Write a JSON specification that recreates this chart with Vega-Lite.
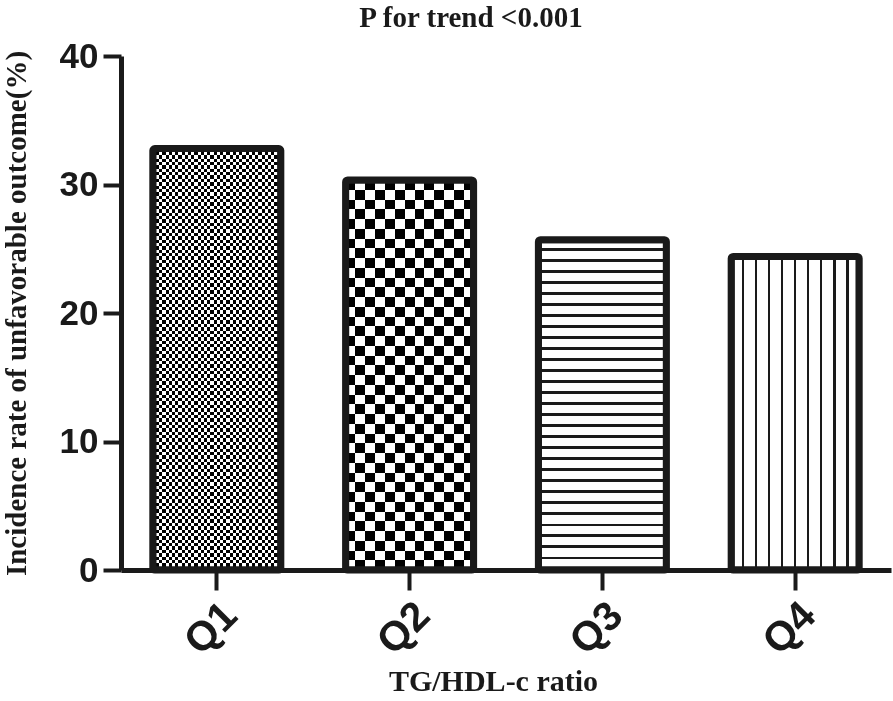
{
  "$schema": "https://vega.github.io/schema/vega-lite/v6.json",
  "width": 770,
  "height": 514,
  "autosize": "none",
  "padding": {"left": 121, "top": 56, "right": 2, "bottom": 131},
  "background": "white",
  "config": {"view": {"stroke": null}},
  "title": {"text": "P for trend <0.001", "font": "Liberation Serif", "fontSize": 29, "fontWeight": "bold", "color": "#1a1a1a", "anchor": "middle", "frame": "group", "dx": -35, "offset": 6},
  "data": {"values": [
    {"q": "Q1", "rate": 32.8},
    {"q": "Q2", "rate": 30.35},
    {"q": "Q3", "rate": 25.7},
    {"q": "Q4", "rate": 24.4}
  ]},
  "encoding": {
    "x": {"field": "q", "type": "nominal", "title": "TG/HDL-c ratio",
      "scale": {"domain": ["Q1", "Q2", "Q3", "Q4"], "paddingInner": 0.336, "paddingOuter": 0.165},
      "axis": {"domainWidth": 5, "domainColor": "#1a1a1a", "tickColor": "#1a1a1a", "tickWidth": 4, "tickSize": 20, "labelAngle": -45, "labelFont": "Liberation Sans", "labelFontWeight": "bold", "labelFontSize": 41, "labelColor": "#1a1a1a", "labelPadding": 5, "titleFont": "Liberation Serif", "titleFontWeight": "bold", "titleFontSize": 30, "titleColor": "#1a1a1a", "titlePadding": 5, "titleX": 372, "grid": false}},
    "y": {"field": "rate", "type": "quantitative", "title": "Incidence rate of unfavorable outcome(%)",
      "scale": {"domain": [0, 40], "nice": false},
      "axis": {"values": [0, 10, 20, 30, 40], "domainWidth": 5, "domainColor": "#1a1a1a", "tickColor": "#1a1a1a", "tickWidth": 4, "tickSize": 18, "labelFont": "Liberation Sans", "labelFontWeight": "bold", "labelFontSize": 35, "labelColor": "#1a1a1a", "labelPadding": 5, "titleFont": "Liberation Serif", "titleFontWeight": "bold", "titleFontSize": 29, "titleColor": "#1a1a1a", "titlePadding": 28, "grid": false}}
  },
  "layer": [
    {
      "transform": [{"filter": "datum.q === 'Q1'"}],
      "mark": {"type": "bar", "stroke": null, "fill": {"gradient": "linear", "x1": 0, "y1": 0, "x2": 1, "y2": 0, "stops": [
        {"offset": 0, "color": "#fff"},
        {"offset": 0.025, "color": "#fff"}, {"offset": 0.025, "color": "#000"},
        {"offset": 0.05, "color": "#000"}, {"offset": 0.05, "color": "#fff"},
        {"offset": 0.075, "color": "#fff"}, {"offset": 0.075, "color": "#000"},
        {"offset": 0.1, "color": "#000"}, {"offset": 0.1, "color": "#fff"},
        {"offset": 0.125, "color": "#fff"}, {"offset": 0.125, "color": "#000"},
        {"offset": 0.15, "color": "#000"}, {"offset": 0.15, "color": "#fff"},
        {"offset": 0.175, "color": "#fff"}, {"offset": 0.175, "color": "#000"},
        {"offset": 0.2, "color": "#000"}, {"offset": 0.2, "color": "#fff"},
        {"offset": 0.225, "color": "#fff"}, {"offset": 0.225, "color": "#000"},
        {"offset": 0.25, "color": "#000"}, {"offset": 0.25, "color": "#fff"},
        {"offset": 0.275, "color": "#fff"}, {"offset": 0.275, "color": "#000"},
        {"offset": 0.3, "color": "#000"}, {"offset": 0.3, "color": "#fff"},
        {"offset": 0.325, "color": "#fff"}, {"offset": 0.325, "color": "#000"},
        {"offset": 0.35, "color": "#000"}, {"offset": 0.35, "color": "#fff"},
        {"offset": 0.375, "color": "#fff"}, {"offset": 0.375, "color": "#000"},
        {"offset": 0.4, "color": "#000"}, {"offset": 0.4, "color": "#fff"},
        {"offset": 0.425, "color": "#fff"}, {"offset": 0.425, "color": "#000"},
        {"offset": 0.45, "color": "#000"}, {"offset": 0.45, "color": "#fff"},
        {"offset": 0.475, "color": "#fff"}, {"offset": 0.475, "color": "#000"},
        {"offset": 0.5, "color": "#000"}, {"offset": 0.5, "color": "#fff"},
        {"offset": 0.525, "color": "#fff"}, {"offset": 0.525, "color": "#000"},
        {"offset": 0.55, "color": "#000"}, {"offset": 0.55, "color": "#fff"},
        {"offset": 0.575, "color": "#fff"}, {"offset": 0.575, "color": "#000"},
        {"offset": 0.6, "color": "#000"}, {"offset": 0.6, "color": "#fff"},
        {"offset": 0.625, "color": "#fff"}, {"offset": 0.625, "color": "#000"},
        {"offset": 0.65, "color": "#000"}, {"offset": 0.65, "color": "#fff"},
        {"offset": 0.675, "color": "#fff"}, {"offset": 0.675, "color": "#000"},
        {"offset": 0.7, "color": "#000"}, {"offset": 0.7, "color": "#fff"},
        {"offset": 0.725, "color": "#fff"}, {"offset": 0.725, "color": "#000"},
        {"offset": 0.75, "color": "#000"}, {"offset": 0.75, "color": "#fff"},
        {"offset": 0.775, "color": "#fff"}, {"offset": 0.775, "color": "#000"},
        {"offset": 0.8, "color": "#000"}, {"offset": 0.8, "color": "#fff"},
        {"offset": 0.825, "color": "#fff"}, {"offset": 0.825, "color": "#000"},
        {"offset": 0.85, "color": "#000"}, {"offset": 0.85, "color": "#fff"},
        {"offset": 0.875, "color": "#fff"}, {"offset": 0.875, "color": "#000"},
        {"offset": 0.9, "color": "#000"}, {"offset": 0.9, "color": "#fff"},
        {"offset": 0.925, "color": "#fff"}, {"offset": 0.925, "color": "#000"},
        {"offset": 0.95, "color": "#000"}, {"offset": 0.95, "color": "#fff"},
        {"offset": 0.975, "color": "#fff"}, {"offset": 0.975, "color": "#000"},
        {"offset": 1, "color": "#000"}
      ]}}
    },
    {
      "transform": [{"filter": "datum.q === 'Q1'"}],
      "mark": {"type": "bar", "stroke": null, "blend": "difference", "fill": {"gradient": "linear", "x1": 0, "y1": 0, "x2": 0, "y2": 1, "stops": [
        {"offset": 0, "color": "#fff"},
        {"offset": 0.008, "color": "#fff"}, {"offset": 0.008, "color": "#000"},
        {"offset": 0.016, "color": "#000"}, {"offset": 0.016, "color": "#fff"},
        {"offset": 0.024, "color": "#fff"}, {"offset": 0.024, "color": "#000"},
        {"offset": 0.032, "color": "#000"}, {"offset": 0.032, "color": "#fff"},
        {"offset": 0.04, "color": "#fff"}, {"offset": 0.04, "color": "#000"},
        {"offset": 0.048, "color": "#000"}, {"offset": 0.048, "color": "#fff"},
        {"offset": 0.056, "color": "#fff"}, {"offset": 0.056, "color": "#000"},
        {"offset": 0.064, "color": "#000"}, {"offset": 0.064, "color": "#fff"},
        {"offset": 0.072, "color": "#fff"}, {"offset": 0.072, "color": "#000"},
        {"offset": 0.08, "color": "#000"}, {"offset": 0.08, "color": "#fff"},
        {"offset": 0.088, "color": "#fff"}, {"offset": 0.088, "color": "#000"},
        {"offset": 0.096, "color": "#000"}, {"offset": 0.096, "color": "#fff"},
        {"offset": 0.104, "color": "#fff"}, {"offset": 0.104, "color": "#000"},
        {"offset": 0.112, "color": "#000"}, {"offset": 0.112, "color": "#fff"},
        {"offset": 0.12, "color": "#fff"}, {"offset": 0.12, "color": "#000"},
        {"offset": 0.128, "color": "#000"}, {"offset": 0.128, "color": "#fff"},
        {"offset": 0.136, "color": "#fff"}, {"offset": 0.136, "color": "#000"},
        {"offset": 0.144, "color": "#000"}, {"offset": 0.144, "color": "#fff"},
        {"offset": 0.152, "color": "#fff"}, {"offset": 0.152, "color": "#000"},
        {"offset": 0.16, "color": "#000"}, {"offset": 0.16, "color": "#fff"},
        {"offset": 0.168, "color": "#fff"}, {"offset": 0.168, "color": "#000"},
        {"offset": 0.176, "color": "#000"}, {"offset": 0.176, "color": "#fff"},
        {"offset": 0.184, "color": "#fff"}, {"offset": 0.184, "color": "#000"},
        {"offset": 0.192, "color": "#000"}, {"offset": 0.192, "color": "#fff"},
        {"offset": 0.2, "color": "#fff"}, {"offset": 0.2, "color": "#000"},
        {"offset": 0.208, "color": "#000"}, {"offset": 0.208, "color": "#fff"},
        {"offset": 0.216, "color": "#fff"}, {"offset": 0.216, "color": "#000"},
        {"offset": 0.224, "color": "#000"}, {"offset": 0.224, "color": "#fff"},
        {"offset": 0.232, "color": "#fff"}, {"offset": 0.232, "color": "#000"},
        {"offset": 0.24, "color": "#000"}, {"offset": 0.24, "color": "#fff"},
        {"offset": 0.248, "color": "#fff"}, {"offset": 0.248, "color": "#000"},
        {"offset": 0.256, "color": "#000"}, {"offset": 0.256, "color": "#fff"},
        {"offset": 0.264, "color": "#fff"}, {"offset": 0.264, "color": "#000"},
        {"offset": 0.272, "color": "#000"}, {"offset": 0.272, "color": "#fff"},
        {"offset": 0.28, "color": "#fff"}, {"offset": 0.28, "color": "#000"},
        {"offset": 0.288, "color": "#000"}, {"offset": 0.288, "color": "#fff"},
        {"offset": 0.296, "color": "#fff"}, {"offset": 0.296, "color": "#000"},
        {"offset": 0.304, "color": "#000"}, {"offset": 0.304, "color": "#fff"},
        {"offset": 0.312, "color": "#fff"}, {"offset": 0.312, "color": "#000"},
        {"offset": 0.32, "color": "#000"}, {"offset": 0.32, "color": "#fff"},
        {"offset": 0.328, "color": "#fff"}, {"offset": 0.328, "color": "#000"},
        {"offset": 0.336, "color": "#000"}, {"offset": 0.336, "color": "#fff"},
        {"offset": 0.344, "color": "#fff"}, {"offset": 0.344, "color": "#000"},
        {"offset": 0.352, "color": "#000"}, {"offset": 0.352, "color": "#fff"},
        {"offset": 0.36, "color": "#fff"}, {"offset": 0.36, "color": "#000"},
        {"offset": 0.368, "color": "#000"}, {"offset": 0.368, "color": "#fff"},
        {"offset": 0.376, "color": "#fff"}, {"offset": 0.376, "color": "#000"},
        {"offset": 0.384, "color": "#000"}, {"offset": 0.384, "color": "#fff"},
        {"offset": 0.392, "color": "#fff"}, {"offset": 0.392, "color": "#000"},
        {"offset": 0.4, "color": "#000"}, {"offset": 0.4, "color": "#fff"},
        {"offset": 0.408, "color": "#fff"}, {"offset": 0.408, "color": "#000"},
        {"offset": 0.416, "color": "#000"}, {"offset": 0.416, "color": "#fff"},
        {"offset": 0.424, "color": "#fff"}, {"offset": 0.424, "color": "#000"},
        {"offset": 0.432, "color": "#000"}, {"offset": 0.432, "color": "#fff"},
        {"offset": 0.44, "color": "#fff"}, {"offset": 0.44, "color": "#000"},
        {"offset": 0.448, "color": "#000"}, {"offset": 0.448, "color": "#fff"},
        {"offset": 0.456, "color": "#fff"}, {"offset": 0.456, "color": "#000"},
        {"offset": 0.464, "color": "#000"}, {"offset": 0.464, "color": "#fff"},
        {"offset": 0.472, "color": "#fff"}, {"offset": 0.472, "color": "#000"},
        {"offset": 0.48, "color": "#000"}, {"offset": 0.48, "color": "#fff"},
        {"offset": 0.488, "color": "#fff"}, {"offset": 0.488, "color": "#000"},
        {"offset": 0.496, "color": "#000"}, {"offset": 0.496, "color": "#fff"},
        {"offset": 0.504, "color": "#fff"}, {"offset": 0.504, "color": "#000"},
        {"offset": 0.512, "color": "#000"}, {"offset": 0.512, "color": "#fff"},
        {"offset": 0.52, "color": "#fff"}, {"offset": 0.52, "color": "#000"},
        {"offset": 0.528, "color": "#000"}, {"offset": 0.528, "color": "#fff"},
        {"offset": 0.536, "color": "#fff"}, {"offset": 0.536, "color": "#000"},
        {"offset": 0.544, "color": "#000"}, {"offset": 0.544, "color": "#fff"},
        {"offset": 0.552, "color": "#fff"}, {"offset": 0.552, "color": "#000"},
        {"offset": 0.56, "color": "#000"}, {"offset": 0.56, "color": "#fff"},
        {"offset": 0.568, "color": "#fff"}, {"offset": 0.568, "color": "#000"},
        {"offset": 0.576, "color": "#000"}, {"offset": 0.576, "color": "#fff"},
        {"offset": 0.584, "color": "#fff"}, {"offset": 0.584, "color": "#000"},
        {"offset": 0.592, "color": "#000"}, {"offset": 0.592, "color": "#fff"},
        {"offset": 0.6, "color": "#fff"}, {"offset": 0.6, "color": "#000"},
        {"offset": 0.608, "color": "#000"}, {"offset": 0.608, "color": "#fff"},
        {"offset": 0.616, "color": "#fff"}, {"offset": 0.616, "color": "#000"},
        {"offset": 0.624, "color": "#000"}, {"offset": 0.624, "color": "#fff"},
        {"offset": 0.632, "color": "#fff"}, {"offset": 0.632, "color": "#000"},
        {"offset": 0.64, "color": "#000"}, {"offset": 0.64, "color": "#fff"},
        {"offset": 0.648, "color": "#fff"}, {"offset": 0.648, "color": "#000"},
        {"offset": 0.656, "color": "#000"}, {"offset": 0.656, "color": "#fff"},
        {"offset": 0.664, "color": "#fff"}, {"offset": 0.664, "color": "#000"},
        {"offset": 0.672, "color": "#000"}, {"offset": 0.672, "color": "#fff"},
        {"offset": 0.68, "color": "#fff"}, {"offset": 0.68, "color": "#000"},
        {"offset": 0.688, "color": "#000"}, {"offset": 0.688, "color": "#fff"},
        {"offset": 0.696, "color": "#fff"}, {"offset": 0.696, "color": "#000"},
        {"offset": 0.704, "color": "#000"}, {"offset": 0.704, "color": "#fff"},
        {"offset": 0.712, "color": "#fff"}, {"offset": 0.712, "color": "#000"},
        {"offset": 0.72, "color": "#000"}, {"offset": 0.72, "color": "#fff"},
        {"offset": 0.728, "color": "#fff"}, {"offset": 0.728, "color": "#000"},
        {"offset": 0.736, "color": "#000"}, {"offset": 0.736, "color": "#fff"},
        {"offset": 0.744, "color": "#fff"}, {"offset": 0.744, "color": "#000"},
        {"offset": 0.752, "color": "#000"}, {"offset": 0.752, "color": "#fff"},
        {"offset": 0.76, "color": "#fff"}, {"offset": 0.76, "color": "#000"},
        {"offset": 0.768, "color": "#000"}, {"offset": 0.768, "color": "#fff"},
        {"offset": 0.776, "color": "#fff"}, {"offset": 0.776, "color": "#000"},
        {"offset": 0.784, "color": "#000"}, {"offset": 0.784, "color": "#fff"},
        {"offset": 0.792, "color": "#fff"}, {"offset": 0.792, "color": "#000"},
        {"offset": 0.8, "color": "#000"}, {"offset": 0.8, "color": "#fff"},
        {"offset": 0.808, "color": "#fff"}, {"offset": 0.808, "color": "#000"},
        {"offset": 0.816, "color": "#000"}, {"offset": 0.816, "color": "#fff"},
        {"offset": 0.824, "color": "#fff"}, {"offset": 0.824, "color": "#000"},
        {"offset": 0.832, "color": "#000"}, {"offset": 0.832, "color": "#fff"},
        {"offset": 0.84, "color": "#fff"}, {"offset": 0.84, "color": "#000"},
        {"offset": 0.848, "color": "#000"}, {"offset": 0.848, "color": "#fff"},
        {"offset": 0.856, "color": "#fff"}, {"offset": 0.856, "color": "#000"},
        {"offset": 0.864, "color": "#000"}, {"offset": 0.864, "color": "#fff"},
        {"offset": 0.872, "color": "#fff"}, {"offset": 0.872, "color": "#000"},
        {"offset": 0.88, "color": "#000"}, {"offset": 0.88, "color": "#fff"},
        {"offset": 0.888, "color": "#fff"}, {"offset": 0.888, "color": "#000"},
        {"offset": 0.896, "color": "#000"}, {"offset": 0.896, "color": "#fff"},
        {"offset": 0.904, "color": "#fff"}, {"offset": 0.904, "color": "#000"},
        {"offset": 0.912, "color": "#000"}, {"offset": 0.912, "color": "#fff"},
        {"offset": 0.92, "color": "#fff"}, {"offset": 0.92, "color": "#000"},
        {"offset": 0.928, "color": "#000"}, {"offset": 0.928, "color": "#fff"},
        {"offset": 0.936, "color": "#fff"}, {"offset": 0.936, "color": "#000"},
        {"offset": 0.944, "color": "#000"}, {"offset": 0.944, "color": "#fff"},
        {"offset": 0.952, "color": "#fff"}, {"offset": 0.952, "color": "#000"},
        {"offset": 0.96, "color": "#000"}, {"offset": 0.96, "color": "#fff"},
        {"offset": 0.968, "color": "#fff"}, {"offset": 0.968, "color": "#000"},
        {"offset": 0.976, "color": "#000"}, {"offset": 0.976, "color": "#fff"},
        {"offset": 0.984, "color": "#fff"}, {"offset": 0.984, "color": "#000"},
        {"offset": 0.992, "color": "#000"}, {"offset": 0.992, "color": "#fff"},
        {"offset": 1, "color": "#fff"}
      ]}}
    },
    {
      "transform": [{"filter": "datum.q === 'Q2'"}],
      "mark": {"type": "bar", "stroke": null, "fill": {"gradient": "linear", "x1": 0, "y1": 0, "x2": 1, "y2": 0, "stops": [
        {"offset": 0, "color": "#fff"},
        {"offset": 0.0769, "color": "#fff"}, {"offset": 0.0769, "color": "#000"},
        {"offset": 0.1538, "color": "#000"}, {"offset": 0.1538, "color": "#fff"},
        {"offset": 0.2308, "color": "#fff"}, {"offset": 0.2308, "color": "#000"},
        {"offset": 0.3077, "color": "#000"}, {"offset": 0.3077, "color": "#fff"},
        {"offset": 0.3846, "color": "#fff"}, {"offset": 0.3846, "color": "#000"},
        {"offset": 0.4615, "color": "#000"}, {"offset": 0.4615, "color": "#fff"},
        {"offset": 0.5385, "color": "#fff"}, {"offset": 0.5385, "color": "#000"},
        {"offset": 0.6154, "color": "#000"}, {"offset": 0.6154, "color": "#fff"},
        {"offset": 0.6923, "color": "#fff"}, {"offset": 0.6923, "color": "#000"},
        {"offset": 0.7692, "color": "#000"}, {"offset": 0.7692, "color": "#fff"},
        {"offset": 0.8462, "color": "#fff"}, {"offset": 0.8462, "color": "#000"},
        {"offset": 0.9231, "color": "#000"}, {"offset": 0.9231, "color": "#fff"},
        {"offset": 1, "color": "#fff"}
      ]}}
    },
    {
      "transform": [{"filter": "datum.q === 'Q2'"}],
      "mark": {"type": "bar", "stroke": null, "blend": "difference", "fill": {"gradient": "linear", "x1": 0, "y1": 0, "x2": 0, "y2": 1, "stops": [
        {"offset": 0, "color": "#fff"},
        {"offset": 0.025, "color": "#fff"}, {"offset": 0.025, "color": "#000"},
        {"offset": 0.05, "color": "#000"}, {"offset": 0.05, "color": "#fff"},
        {"offset": 0.075, "color": "#fff"}, {"offset": 0.075, "color": "#000"},
        {"offset": 0.1, "color": "#000"}, {"offset": 0.1, "color": "#fff"},
        {"offset": 0.125, "color": "#fff"}, {"offset": 0.125, "color": "#000"},
        {"offset": 0.15, "color": "#000"}, {"offset": 0.15, "color": "#fff"},
        {"offset": 0.175, "color": "#fff"}, {"offset": 0.175, "color": "#000"},
        {"offset": 0.2, "color": "#000"}, {"offset": 0.2, "color": "#fff"},
        {"offset": 0.225, "color": "#fff"}, {"offset": 0.225, "color": "#000"},
        {"offset": 0.25, "color": "#000"}, {"offset": 0.25, "color": "#fff"},
        {"offset": 0.275, "color": "#fff"}, {"offset": 0.275, "color": "#000"},
        {"offset": 0.3, "color": "#000"}, {"offset": 0.3, "color": "#fff"},
        {"offset": 0.325, "color": "#fff"}, {"offset": 0.325, "color": "#000"},
        {"offset": 0.35, "color": "#000"}, {"offset": 0.35, "color": "#fff"},
        {"offset": 0.375, "color": "#fff"}, {"offset": 0.375, "color": "#000"},
        {"offset": 0.4, "color": "#000"}, {"offset": 0.4, "color": "#fff"},
        {"offset": 0.425, "color": "#fff"}, {"offset": 0.425, "color": "#000"},
        {"offset": 0.45, "color": "#000"}, {"offset": 0.45, "color": "#fff"},
        {"offset": 0.475, "color": "#fff"}, {"offset": 0.475, "color": "#000"},
        {"offset": 0.5, "color": "#000"}, {"offset": 0.5, "color": "#fff"},
        {"offset": 0.525, "color": "#fff"}, {"offset": 0.525, "color": "#000"},
        {"offset": 0.55, "color": "#000"}, {"offset": 0.55, "color": "#fff"},
        {"offset": 0.575, "color": "#fff"}, {"offset": 0.575, "color": "#000"},
        {"offset": 0.6, "color": "#000"}, {"offset": 0.6, "color": "#fff"},
        {"offset": 0.625, "color": "#fff"}, {"offset": 0.625, "color": "#000"},
        {"offset": 0.65, "color": "#000"}, {"offset": 0.65, "color": "#fff"},
        {"offset": 0.675, "color": "#fff"}, {"offset": 0.675, "color": "#000"},
        {"offset": 0.7, "color": "#000"}, {"offset": 0.7, "color": "#fff"},
        {"offset": 0.725, "color": "#fff"}, {"offset": 0.725, "color": "#000"},
        {"offset": 0.75, "color": "#000"}, {"offset": 0.75, "color": "#fff"},
        {"offset": 0.775, "color": "#fff"}, {"offset": 0.775, "color": "#000"},
        {"offset": 0.8, "color": "#000"}, {"offset": 0.8, "color": "#fff"},
        {"offset": 0.825, "color": "#fff"}, {"offset": 0.825, "color": "#000"},
        {"offset": 0.85, "color": "#000"}, {"offset": 0.85, "color": "#fff"},
        {"offset": 0.875, "color": "#fff"}, {"offset": 0.875, "color": "#000"},
        {"offset": 0.9, "color": "#000"}, {"offset": 0.9, "color": "#fff"},
        {"offset": 0.925, "color": "#fff"}, {"offset": 0.925, "color": "#000"},
        {"offset": 0.95, "color": "#000"}, {"offset": 0.95, "color": "#fff"},
        {"offset": 0.975, "color": "#fff"}, {"offset": 0.975, "color": "#000"},
        {"offset": 1, "color": "#000"}
      ]}}
    },
    {
      "transform": [{"filter": "datum.q === 'Q3'"}],
      "mark": {"type": "bar", "stroke": null, "fill": {"gradient": "linear", "x1": 0, "y1": 0, "x2": 0, "y2": 1, "stops": [
        {"offset": 0, "color": "#fff"},
        {"offset": 0.0258, "color": "#fff"}, {"offset": 0.0258, "color": "#1a1a1a"}, {"offset": 0.0333, "color": "#1a1a1a"}, {"offset": 0.0333, "color": "#fff"},
        {"offset": 0.0592, "color": "#fff"}, {"offset": 0.0592, "color": "#1a1a1a"}, {"offset": 0.0667, "color": "#1a1a1a"}, {"offset": 0.0667, "color": "#fff"},
        {"offset": 0.0925, "color": "#fff"}, {"offset": 0.0925, "color": "#1a1a1a"}, {"offset": 0.1, "color": "#1a1a1a"}, {"offset": 0.1, "color": "#fff"},
        {"offset": 0.1258, "color": "#fff"}, {"offset": 0.1258, "color": "#1a1a1a"}, {"offset": 0.1333, "color": "#1a1a1a"}, {"offset": 0.1333, "color": "#fff"},
        {"offset": 0.1592, "color": "#fff"}, {"offset": 0.1592, "color": "#1a1a1a"}, {"offset": 0.1667, "color": "#1a1a1a"}, {"offset": 0.1667, "color": "#fff"},
        {"offset": 0.1925, "color": "#fff"}, {"offset": 0.1925, "color": "#1a1a1a"}, {"offset": 0.2, "color": "#1a1a1a"}, {"offset": 0.2, "color": "#fff"},
        {"offset": 0.2258, "color": "#fff"}, {"offset": 0.2258, "color": "#1a1a1a"}, {"offset": 0.2333, "color": "#1a1a1a"}, {"offset": 0.2333, "color": "#fff"},
        {"offset": 0.2592, "color": "#fff"}, {"offset": 0.2592, "color": "#1a1a1a"}, {"offset": 0.2667, "color": "#1a1a1a"}, {"offset": 0.2667, "color": "#fff"},
        {"offset": 0.2925, "color": "#fff"}, {"offset": 0.2925, "color": "#1a1a1a"}, {"offset": 0.3, "color": "#1a1a1a"}, {"offset": 0.3, "color": "#fff"},
        {"offset": 0.3258, "color": "#fff"}, {"offset": 0.3258, "color": "#1a1a1a"}, {"offset": 0.3333, "color": "#1a1a1a"}, {"offset": 0.3333, "color": "#fff"},
        {"offset": 0.3592, "color": "#fff"}, {"offset": 0.3592, "color": "#1a1a1a"}, {"offset": 0.3667, "color": "#1a1a1a"}, {"offset": 0.3667, "color": "#fff"},
        {"offset": 0.3925, "color": "#fff"}, {"offset": 0.3925, "color": "#1a1a1a"}, {"offset": 0.4, "color": "#1a1a1a"}, {"offset": 0.4, "color": "#fff"},
        {"offset": 0.4258, "color": "#fff"}, {"offset": 0.4258, "color": "#1a1a1a"}, {"offset": 0.4333, "color": "#1a1a1a"}, {"offset": 0.4333, "color": "#fff"},
        {"offset": 0.4592, "color": "#fff"}, {"offset": 0.4592, "color": "#1a1a1a"}, {"offset": 0.4667, "color": "#1a1a1a"}, {"offset": 0.4667, "color": "#fff"},
        {"offset": 0.4925, "color": "#fff"}, {"offset": 0.4925, "color": "#1a1a1a"}, {"offset": 0.5, "color": "#1a1a1a"}, {"offset": 0.5, "color": "#fff"},
        {"offset": 0.5258, "color": "#fff"}, {"offset": 0.5258, "color": "#1a1a1a"}, {"offset": 0.5333, "color": "#1a1a1a"}, {"offset": 0.5333, "color": "#fff"},
        {"offset": 0.5592, "color": "#fff"}, {"offset": 0.5592, "color": "#1a1a1a"}, {"offset": 0.5667, "color": "#1a1a1a"}, {"offset": 0.5667, "color": "#fff"},
        {"offset": 0.5925, "color": "#fff"}, {"offset": 0.5925, "color": "#1a1a1a"}, {"offset": 0.6, "color": "#1a1a1a"}, {"offset": 0.6, "color": "#fff"},
        {"offset": 0.6258, "color": "#fff"}, {"offset": 0.6258, "color": "#1a1a1a"}, {"offset": 0.6333, "color": "#1a1a1a"}, {"offset": 0.6333, "color": "#fff"},
        {"offset": 0.6592, "color": "#fff"}, {"offset": 0.6592, "color": "#1a1a1a"}, {"offset": 0.6667, "color": "#1a1a1a"}, {"offset": 0.6667, "color": "#fff"},
        {"offset": 0.6925, "color": "#fff"}, {"offset": 0.6925, "color": "#1a1a1a"}, {"offset": 0.7, "color": "#1a1a1a"}, {"offset": 0.7, "color": "#fff"},
        {"offset": 0.7258, "color": "#fff"}, {"offset": 0.7258, "color": "#1a1a1a"}, {"offset": 0.7333, "color": "#1a1a1a"}, {"offset": 0.7333, "color": "#fff"},
        {"offset": 0.7592, "color": "#fff"}, {"offset": 0.7592, "color": "#1a1a1a"}, {"offset": 0.7667, "color": "#1a1a1a"}, {"offset": 0.7667, "color": "#fff"},
        {"offset": 0.7925, "color": "#fff"}, {"offset": 0.7925, "color": "#1a1a1a"}, {"offset": 0.8, "color": "#1a1a1a"}, {"offset": 0.8, "color": "#fff"},
        {"offset": 0.8258, "color": "#fff"}, {"offset": 0.8258, "color": "#1a1a1a"}, {"offset": 0.8333, "color": "#1a1a1a"}, {"offset": 0.8333, "color": "#fff"},
        {"offset": 0.8592, "color": "#fff"}, {"offset": 0.8592, "color": "#1a1a1a"}, {"offset": 0.8667, "color": "#1a1a1a"}, {"offset": 0.8667, "color": "#fff"},
        {"offset": 0.8925, "color": "#fff"}, {"offset": 0.8925, "color": "#1a1a1a"}, {"offset": 0.9, "color": "#1a1a1a"}, {"offset": 0.9, "color": "#fff"},
        {"offset": 0.9258, "color": "#fff"}, {"offset": 0.9258, "color": "#1a1a1a"}, {"offset": 0.9333, "color": "#1a1a1a"}, {"offset": 0.9333, "color": "#fff"},
        {"offset": 0.9592, "color": "#fff"}, {"offset": 0.9592, "color": "#1a1a1a"}, {"offset": 0.9667, "color": "#1a1a1a"}, {"offset": 0.9667, "color": "#fff"},
        {"offset": 1, "color": "#fff"}
      ]}}
    },
    {
      "transform": [{"filter": "datum.q === 'Q4'"}],
      "mark": {"type": "bar", "stroke": null, "fill": {"gradient": "linear", "x1": 0, "y1": 0, "x2": 1, "y2": 0, "stops": [
        {"offset": 0, "color": "#fff"},
        {"offset": 0.082, "color": "#fff"}, {"offset": 0.082, "color": "#1a1a1a"}, {"offset": 0.102, "color": "#1a1a1a"}, {"offset": 0.102, "color": "#fff"},
        {"offset": 0.184, "color": "#fff"}, {"offset": 0.184, "color": "#1a1a1a"}, {"offset": 0.204, "color": "#1a1a1a"}, {"offset": 0.204, "color": "#fff"},
        {"offset": 0.286, "color": "#fff"}, {"offset": 0.286, "color": "#1a1a1a"}, {"offset": 0.306, "color": "#1a1a1a"}, {"offset": 0.306, "color": "#fff"},
        {"offset": 0.387, "color": "#fff"}, {"offset": 0.387, "color": "#1a1a1a"}, {"offset": 0.407, "color": "#1a1a1a"}, {"offset": 0.407, "color": "#fff"},
        {"offset": 0.489, "color": "#fff"}, {"offset": 0.489, "color": "#1a1a1a"}, {"offset": 0.509, "color": "#1a1a1a"}, {"offset": 0.509, "color": "#fff"},
        {"offset": 0.591, "color": "#fff"}, {"offset": 0.591, "color": "#1a1a1a"}, {"offset": 0.611, "color": "#1a1a1a"}, {"offset": 0.611, "color": "#fff"},
        {"offset": 0.693, "color": "#fff"}, {"offset": 0.693, "color": "#1a1a1a"}, {"offset": 0.713, "color": "#1a1a1a"}, {"offset": 0.713, "color": "#fff"},
        {"offset": 0.795, "color": "#fff"}, {"offset": 0.795, "color": "#1a1a1a"}, {"offset": 0.815, "color": "#1a1a1a"}, {"offset": 0.815, "color": "#fff"},
        {"offset": 0.897, "color": "#fff"}, {"offset": 0.897, "color": "#1a1a1a"}, {"offset": 0.917, "color": "#1a1a1a"}, {"offset": 0.917, "color": "#fff"},
        {"offset": 1, "color": "#fff"}
      ]}}
    },
    {
      "mark": {"type": "bar", "filled": false, "stroke": "#1a1a1a", "strokeWidth": 7, "strokeJoin": "round", "cornerRadius": 2}
    }
  ]
}
